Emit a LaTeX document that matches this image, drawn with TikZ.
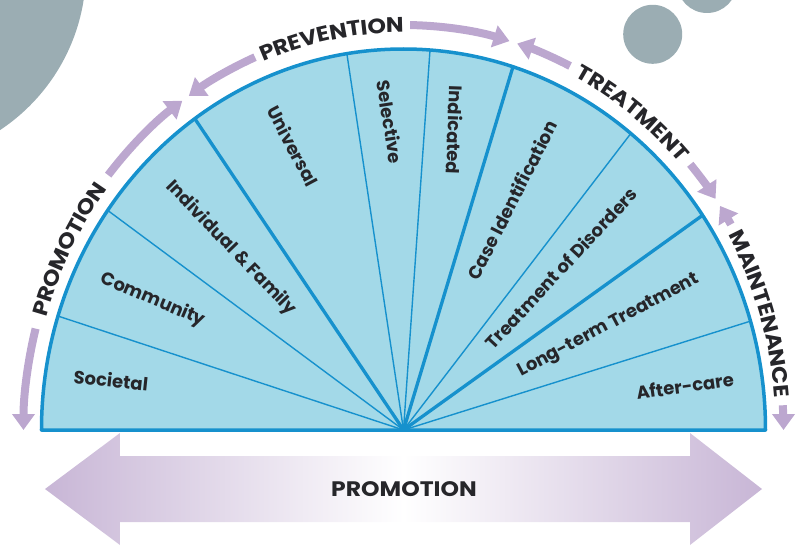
\documentclass[tikz,border=0pt]{standalone}
\usepackage{fontspec}
\setmainfont{Poppins}
\newfontfamily\arcfont{Poppins}[FakeStretch=1.12]
\usetikzlibrary{arrows.meta,decorations.text}
\definecolor{greyc}{RGB}{155,173,179}
\definecolor{bfill}{RGB}{163,217,232}
\definecolor{bline}{RGB}{22,145,205}
\definecolor{parc}{RGB}{188,167,207}
\definecolor{parrow}{RGB}{200,182,214}
\definecolor{txt}{RGB}{38,38,42}
\begin{document}
\begin{tikzpicture}[x=1pt,y=1pt,
  seglabel/.style={font=\bfseries\fontsize{18}{18}\selectfont, text=txt, inner sep=0pt},
  thinspoke/.style={draw=bline, line width=1.4pt},
  thickspoke/.style={draw=bline, line width=3.3pt},
  parrowline/.style={draw=parc, line width=8pt, -{Triangle[width=22pt,length=16pt]}},
  arctext/.style={decorate, decoration={text along path, text align=center, raise=-7.5pt, text color=txt,
     text={|\arcfont\bfseries\fontsize{21}{21}\selectfont|#1}}}
]
\useasboundingbox (-403.5,-117) rectangle (402.5,430);
\clip (-403.5,-117) rectangle (402.5,430);
% grey decorative circles
\fill[greyc] (-509.5,460) circle[radius=192pt];
\fill[greyc] (249.2,395.7) circle[radius=29.5pt];
\fill[greyc] (303.5,447) circle[radius=30pt];
% bottom double arrow
\shade[left color=parrow, right color=parrow, middle color=white]
  (-358.5,-59) -- (-283.5,-3) -- (-283.5,-26) -- (286.5,-26) -- (286.5,-3) -- (358.5,-59)
  -- (286.5,-115) -- (286.5,-92) -- (-283.5,-92) -- (-283.5,-115) -- cycle;
\node[font=\arcfont\bfseries\fontsize{21}{21}\selectfont, text=txt, inner sep=0pt] (bottomlabel) at (0.5,-59) {PROMOTION};
% semicircle
\coordinate (c) at (0,0);
\fill[bfill] (-362,0) arc[start angle=180, end angle=0, x radius=362pt, y radius=381pt] -- cycle;
\foreach \a in {162.6,144.8,99.0,85.8,51.1,16.6}
  \draw[thinspoke] (c) -- ({362*cos(\a)},{381*sin(\a)});
\foreach \a in {125.2,72.4,34.3}
  \draw[thickspoke] (c) -- ({362*cos(\a)},{381*sin(\a)});
\draw[draw=bline, line width=3.5pt, line join=round] (-362,0) arc[start angle=180, end angle=0, x radius=362pt, y radius=381pt] -- cycle;
% segment labels
\node[seglabel, rotate=-6] (societal) at (-292.5,50) {Societal};
\node[seglabel, rotate=-23] (community) at (-250.5,130) {Community};
\node[seglabel, rotate=-46] (indiv) at (-172.5,182) {Individual \& Family};
\node[seglabel, rotate=-62] (universal) at (-110.5,284) {Universal};
\node[seglabel, rotate=-81] (selective) at (-13.5,308) {Selective};
\node[seglabel, rotate=-92] (indicated) at (51.5,300) {Indicated};
\node[seglabel, rotate=63] (caseid) at (108.5,230) {Case Identification};
\node[seglabel, rotate=47] (treatdis) at (157.5,162) {Treatment of Disorders};
\node[seglabel, rotate=28] (longterm) at (205.5,104) {Long-term Treatment};
\node[seglabel, rotate=8] (aftercare) at (281.5,44) {After-care};
% purple arcs with arrows
\draw[parrowline] ({380*cos(165.5)},{405*sin(165.5)}) arc[start angle=165.5, end angle=180, x radius=380pt, y radius=405pt];
\draw[parrowline] ({380*cos(141)},{405*sin(141)}) arc[start angle=141, end angle=125.6, x radius=380pt, y radius=405pt];
\draw[parrowline] ({380*cos(113)},{405*sin(113)}) arc[start angle=113, end angle=124.4, x radius=380pt, y radius=405pt];
\draw[parrowline] ({380*cos(89)},{405*sin(89)}) arc[start angle=89, end angle=73.8, x radius=380pt, y radius=405pt];
\draw[parrowline] ({380*cos(64)},{405*sin(64)}) arc[start angle=64, end angle=72.6, x radius=380pt, y radius=405pt];
\draw[parrowline] ({380*cos(41)},{405*sin(41)}) arc[start angle=41, end angle=34.8, x radius=380pt, y radius=405pt];
\draw[parrowline] ({380*cos(30.5)},{405*sin(30.5)}) arc[start angle=30.5, end angle=33.6, x radius=380pt, y radius=405pt];
\draw[parrowline] ({380*cos(3.5)},{405*sin(3.5)}) arc[start angle=3.5, end angle=0, x radius=380pt, y radius=405pt];
% arc texts
\path[arctext=PROMOTION] ({380*cos(172)},{405*sin(172)}) arc[start angle=172, end angle=134, x radius=380pt, y radius=405pt];
\path[arctext=PREVENTION] ({380*cos(120)},{405*sin(120)}) arc[start angle=120, end angle=82, x radius=380pt, y radius=405pt];
\path[arctext=TREATMENT] ({380*cos(70)},{405*sin(70)}) arc[start angle=70, end angle=35, x radius=380pt, y radius=405pt];
\path[arctext=MAINTENANCE] ({380*cos(33)},{405*sin(33)}) arc[start angle=33, end angle=1, x radius=380pt, y radius=405pt];
\end{tikzpicture}
\end{document}
